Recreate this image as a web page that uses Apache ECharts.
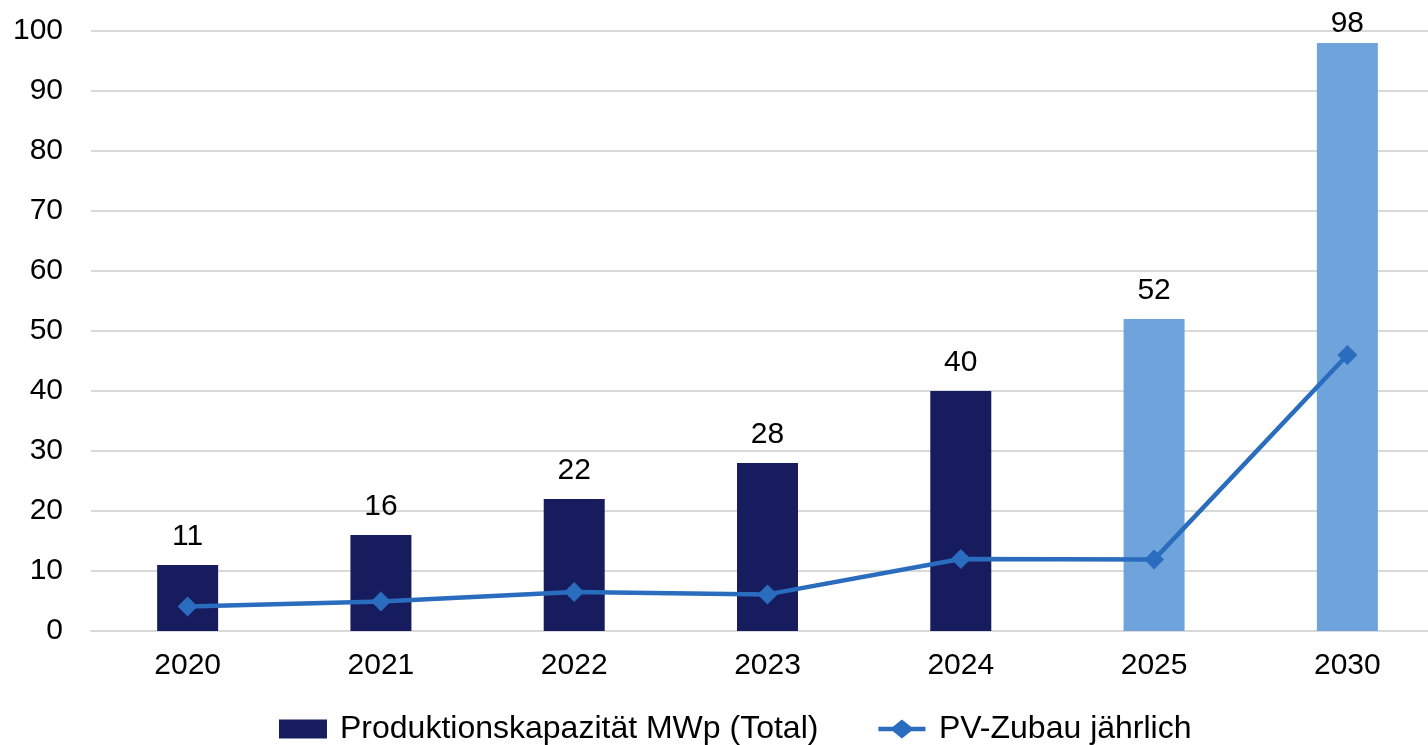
<!DOCTYPE html>
<html>
<head>
<meta charset="utf-8">
<script src="https://cdn.jsdelivr.net/npm/echarts@6/dist/echarts.min.js"></script>
<style>
  html, body { margin: 0; padding: 0; background: #fff; overflow: hidden; }
  /* Zeichenfläche etwas breiter als das Fenster: 2030-Kategorie läuft rechts über den Rand hinaus */
  #chart { width: 1450px; height: 745px; }
</style>
</head>
<body>
<div id="chart"></div>
<script>
  var years = ["2020", "2021", "2022", "2023", "2024", "2025", "2030"];
  var kapazitaet = [11, 16, 22, 28, 40, 52, 98];
  var zubau = [4.1, 4.9, 6.5, 6.1, 12.0, 11.9, 46.0];
  var forecastFrom = 5; // 2025 und 2030 sind Prognosen (hellblau)

  var dark = "#171c5e";
  var light = "#6fa3dc";
  var lineBlue = "#2a6cbd";
  var font = "Liberation Sans, Arial, sans-serif";

  // Legendensymbol: Linie mit Raute in der Mitte
  var lineIcon = "path://M0,7L16,7L26,-1L36,7L52,7L52,12L36,12L26,20L16,12L0,12Z";

  var chart = echarts.init(document.getElementById("chart"));
  var option = {
    animation: false,
    textStyle: { fontFamily: font },
    grid: { left: 91, right: 6, top: 31, bottom: 114 },
    legend: {
      top: 708,
      left: 274,
      itemGap: 60,
      itemWidth: 48,
      itemHeight: 19,
      textStyle: { fontSize: 32, color: "#000", fontFamily: font, padding: [0, 0, 0, 8] },
      data: [
        { name: "Produktionskapazität MWp (Total)", icon: "rect" },
        { name: "PV-Zubau jährlich", icon: lineIcon, itemStyle: { color: lineBlue } }
      ]
    },
    xAxis: {
      type: "category",
      data: years,
      axisLine: { lineStyle: { color: "#d9d9d9", width: 2 } },
      axisTick: { show: false },
      axisLabel: { fontSize: 30, color: "#000", margin: 20, fontFamily: font }
    },
    yAxis: {
      type: "value",
      min: 0,
      max: 100,
      interval: 10,
      axisLine: { show: false },
      axisTick: { show: false },
      axisLabel: { fontSize: 30, color: "#000", margin: 28, fontFamily: font },
      splitLine: { lineStyle: { color: "#d9d9d9", width: 2 } }
    },
    series: [
      {
        name: "Produktionskapazität MWp (Total)",
        type: "bar",
        barWidth: 61,
        itemStyle: { color: dark },
        data: kapazitaet.map(function (v, i) {
          var item = { value: v, itemStyle: { color: i >= forecastFrom ? light : dark } };
          // oberstes Label rückt näher an den Balken, damit es im Bild bleibt
          if (i === kapazitaet.length - 1) item.label = { distance: 4 };
          return item;
        }),
        label: {
          show: true,
          position: "top",
          distance: 13,
          fontSize: 30,
          color: "#000",
          fontFamily: font
        }
      },
      {
        name: "PV-Zubau jährlich",
        type: "line",
        data: zubau,
        symbol: "diamond",
        symbolSize: 20,
        lineStyle: { color: lineBlue, width: 4.5 },
        itemStyle: { color: lineBlue },
        z: 3
      }
    ]
  };
  chart.setOption(option);
</script>
</body>
</html>
